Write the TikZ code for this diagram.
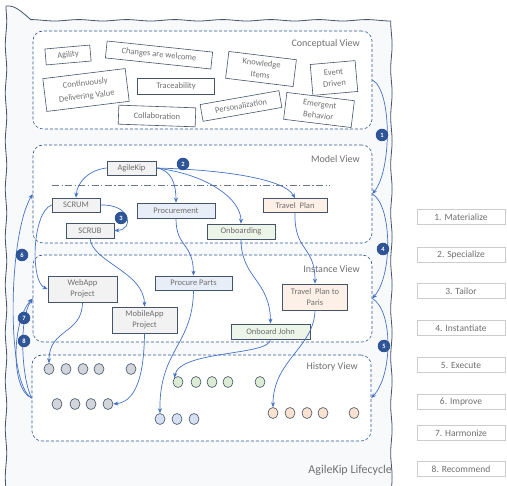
\documentclass[tikz,border=0pt]{standalone}
\usepackage{fontspec}
\setmainfont{Carlito}
\usetikzlibrary{arrows.meta,shapes.geometric,decorations.pathmorphing}
\definecolor{txt}{HTML}{707070}
\definecolor{bord}{HTML}{44546A}
\definecolor{dsh}{HTML}{2F5597}
\definecolor{arr}{HTML}{4472C4}
\definecolor{bdg}{HTML}{2F5597}
\definecolor{nfill}{HTML}{F2F2F2}
\definecolor{bfill}{HTML}{E8EEF8}
\definecolor{gfill}{HTML}{EDF5E8}
\definecolor{ofill}{HTML}{FDF0E7}
\definecolor{cgray}{HTML}{D2D5DA}
\definecolor{cgreen}{HTML}{DCEBD3}
\definecolor{cblue}{HTML}{D5E0F3}
\definecolor{corange}{HTML}{FBE2D0}
\definecolor{bg}{HTML}{F8F9FA}
\begin{document}
\begin{tikzpicture}[x=1pt,y=-1pt,
 viewbox/.style={draw=dsh, densely dashed, line width=0.6pt, rounded corners=10pt, fill=white, inner sep=0pt},
 viewlabel/.style={text=txt, font=\fontsize{10}{12}\selectfont, anchor=east, inner sep=0pt},
 concept/.style={draw=bord, fill=white, line width=0.6pt, text=txt, font=\fontsize{8.5}{11.5}\selectfont, align=center, inner sep=1pt},
 itembox/.style={draw=bord, line width=0.7pt, fill=nfill, text=txt, font=\fontsize{8.5}{11.5}\selectfont, align=center, inner sep=1pt},
 dotnode/.style={ellipse, draw=bord, line width=0.6pt, minimum width=10pt, minimum height=11pt, inner sep=0pt},
 badgenode/.style={circle, fill=bdg, text=white, font=\fontsize{6.5}{7}\selectfont\bfseries, minimum size=12.5pt, inner sep=0pt},
 flow/.style={draw=arr, line width=0.7pt, -{Stealth[length=5pt,width=4pt]}},
 legendbox/.style={draw=black!20, fill=white, line width=0.5pt, text=txt, font=\fontsize{9.5}{11}\selectfont, minimum width=88pt, minimum height=15pt, inner sep=0pt}
]
\useasboundingbox (0,0) rectangle (507,486);
% outer lifecycle box
\draw[bord, line width=0.8pt, fill=bg, decorate, decoration={snake, amplitude=0.7pt, segment length=48pt}] (6,6) rectangle (398,481);
\node[anchor=east, text=txt, font=\fontsize{12}{14}\selectfont, inner sep=0pt] (life) at (392,470) {AgileKip Lifecycle};

% views
\node[viewbox, minimum width=339pt, minimum height=98pt] (cv) at (202.5,80) {};
\node[viewbox, minimum width=339pt, minimum height=98pt] (mv) at (202.5,194) {};
\node[viewbox, minimum width=339pt, minimum height=87pt] (iv) at (202.5,298.5) {};
\node[viewbox, minimum width=339pt, minimum height=86pt] (hv) at (201.5,398) {};
\node[viewlabel] (cvl) at (360,44) {Conceptual View};
\node[viewlabel] (mvl) at (360,159) {Model View};
\node[viewlabel] (ivl) at (360,269) {Instance View};
\node[viewlabel] (hvl) at (358,367) {History View};

% concepts
\node[concept, minimum width=45pt, minimum height=16pt, rotate=5] (c1) at (68,55) {Agility};
\node[concept, minimum width=106pt, minimum height=17pt, rotate=-6] (c2) at (159,55) {Changes are welcome};
\node[concept, minimum width=68pt, minimum height=27pt, rotate=-7] (c3) at (261,69) {Knowledge\\Items};
\node[concept, minimum width=45pt, minimum height=31pt, rotate=5] (c4) at (334,78) {Event\\Driven};
\node[concept, minimum width=83pt, minimum height=33pt, rotate=7, font=\fontsize{8.5}{13}\selectfont] (c5) at (86,90) {Continuously\\Delivering Value};
\node[concept, minimum width=77pt, minimum height=16pt] (c6) at (176,86) {Traceability};
\node[concept, minimum width=77pt, minimum height=19pt, rotate=-2] (c7) at (157,116) {Collaboration};
\node[concept, minimum width=80pt, minimum height=17pt, rotate=10] (c8) at (241,106) {Personalization};
\node[concept, minimum width=68pt, minimum height=27pt, rotate=-7] (c9) at (319,110) {Emergent\\Behavior};

% model view
\draw[bord!80, line width=0.6pt, dash pattern=on 7pt off 2.5pt on 1.2pt off 2.5pt] (52,185) coordinate (dl1) -- (330,185) coordinate (dl2);
\node[itembox, minimum width=49pt, minimum height=14pt] (ak) at (131.5,168) {AgileKip};
\node[itembox, minimum width=48pt, minimum height=14pt] (scrum) at (76,205) {SCRUM};
\node[itembox, minimum width=48pt, minimum height=15pt] (scrub) at (90,230.5) {SCRUB};
\node[itembox, fill=bfill, minimum width=78pt, minimum height=15pt] (proc) at (176,210.5) {Procurement};
\node[itembox, fill=gfill, minimum width=68pt, minimum height=15pt] (onb) at (241,231.5) {Onboarding};
\node[itembox, fill=ofill, minimum width=64pt, minimum height=14pt] (tp) at (295,205.5) {Travel\ \ Plan};

% instance view
\node[itembox, minimum width=69pt, minimum height=26pt] (web) at (82.5,289) {WebApp\\Project};
\node[itembox, fill=bfill, minimum width=77pt, minimum height=14pt] (pp) at (193.5,283) {Procure Parts};
\node[itembox, minimum width=65pt, minimum height=26pt] (mob) at (144.5,320) {MobileApp\\Project};
\node[itembox, fill=ofill, minimum width=65pt, minimum height=26pt] (tptp) at (315,297) {Travel\ \ Plan to\\Paris};
\node[itembox, fill=gfill, minimum width=79pt, minimum height=15pt] (oj) at (270.5,331.5) {Onboard John};

% history view
\foreach \x [count=\i] in {49,66,83,99,131} \node[dotnode, fill=cgray] (ga\i) at (\x,369) {};
\foreach \x [count=\i] in {57,75,91,108} \node[dotnode, fill=cgray] (gb\i) at (\x,404) {};
\foreach \x [count=\i] in {178,196,212,228,260} \node[dotnode, fill=cgreen] (gr\i) at (\x,382) {};
\foreach \x [count=\i] in {160,177,194} \node[dotnode, fill=cblue] (bl\i) at (\x,419) {};
\foreach \x [count=\i] in {273,290,307,323,354} \node[dotnode, fill=corange] (or\i) at (\x,413) {};

% lifecycle arrows (right)
\draw[flow] (cv.east) .. controls (392,90) and (392,170) .. (mv.east);
\draw[flow] (mv.east) .. controls (392,205) and (393,275) .. (iv.east);
\draw[flow] (iv.east) .. controls (393,310) and (393,375) .. (hv.east);
% lifecycle arrows (left)
\draw[flow] (hv.west) .. controls (6,385) and (8,235) .. (mv.west);
\draw[flow] (hv.west) .. controls (10,390) and (12,320) .. (iv.west);
\draw[flow] (hv.west) .. controls (22,380) and (18,320) .. (iv.west);

% specialize
\draw[flow] (ak.west) .. controls (88,170) and (77,183) .. (scrum.north);
\draw[flow] (ak.east) .. controls (172,170) and (176,185) .. (proc.north);
\draw[flow] (ak.east) .. controls (210,175) and (241,200) .. (onb.north);
\draw[flow] (ak.east) .. controls (230,170) and (285,180) .. (tp.north);
% tailor
\draw[flow] (scrum.east) .. controls (132,204) and (134,230) .. (scrub.east);
% instantiate
\draw[flow] (scrum.west) .. controls (32,212) and (30,282) .. (web.west);
\draw[flow] (scrub.south) .. controls (92,262) and (144,272) .. (mob.north);
\draw[flow] (proc.south) .. controls (176,248) and (193,242) .. (pp.north);
\draw[flow] (onb.south) .. controls (241,278) and (270,280) .. (oj.north);
\draw[flow] (tp.south) .. controls (294,252) and (315,245) .. (tptp.north);
% execute
\draw[flow] (web.south) .. controls (82,335) and (49,328) .. (ga1.north);
\draw[flow] (mob.south) .. controls (144,385) and (132,402) .. (gb4.east);
\draw[flow] (pp.south) .. controls (193,345) and (159,350) .. (bl1.north);
\draw[flow] (oj.south) .. controls (270,356) and (180,350) .. (gr1.north west);
\draw[flow] (tptp.south) .. controls (314,348) and (273,360) .. (or1.north);

% badges
\node[badgenode] (b1) at (382,135) {1};
\node[badgenode] (b2) at (183,164) {2};
\node[badgenode] (b3) at (121,218) {3};
\node[badgenode] (b4) at (383,249) {4};
\node[badgenode] (b5) at (384,346) {5};
\node[badgenode] (b6) at (22,255) {6};
\node[badgenode] (b7) at (24,318) {7};
\node[badgenode] (b8) at (24,341) {8};

% legend
\node[legendbox] (l1) at (461,217) {1. Materialize};
\node[legendbox] (l2) at (461,255) {2. Specialize};
\node[legendbox] (l3) at (461,291) {3. Tailor};
\node[legendbox] (l4) at (461,328) {4. Instantiate};
\node[legendbox] (l5) at (461,365) {5. Execute};
\node[legendbox] (l6) at (461,402) {6. Improve};
\node[legendbox] (l7) at (461,433) {7. Harmonize};
\node[legendbox] (l8) at (461,469) {8. Recommend};
\end{tikzpicture}
\end{document}
